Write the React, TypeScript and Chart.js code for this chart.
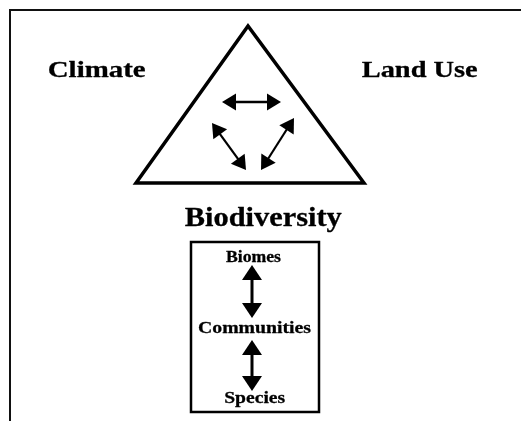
import React, { useEffect, useRef } from "react";
import { Chart, registerables } from "chart.js";

Chart.register(...registerables);

// ---- Diagram data (in picture units, mapped through the chart's linear scales) ----
const frameX = [10, 10, 521];
const frameY = [421, 10, 10];

const triangleX = [248, 136, 364];
const triangleY = [26, 183, 183];

const boxX = [191, 319];
const boxY = [242, 412];

// double-headed arrows: start tip -> end tip
const arrowStartX = [222, 212, 294, 252, 252];
const arrowStartY = [102, 123, 118, 265, 340];
const arrowEndX = [281, 246, 261, 252, 252];
const arrowEndY = [102, 170, 170, 318, 391];

const labels = ["Climate", "Land Use", "Biodiversity", "Biomes", "Communities", "Species"];
const labelX = [96.7, 419.7, 263.3, 253.5, 254.5, 254.7];
const labelY = [77, 77, 226, 262, 333, 403];

// ---- styles ----
const arrowHeadLen = [14, 14, 14, 15, 15];
const arrowHeadWidth = [17, 17, 17, 20, 20];
const arrowShaftWidth = [2.5, 2.2, 2.2, 3, 3];
const labelFontSize = [24, 24, 27, 17, 17.5, 17.5];
const labelTargetWidth = [98, 116, 157, 55, 113, 61];
const FONT_FAMILY = '"Liberation Serif", "Times New Roman", Times, serif';
const INK = "#000000";

function shaftPoints(i: number) {
  const x1 = arrowStartX[i], y1 = arrowStartY[i], x2 = arrowEndX[i], y2 = arrowEndY[i];
  const len = Math.hypot(x2 - x1, y2 - y1);
  const ux = (x2 - x1) / len, uy = (y2 - y1) / len;
  const h = arrowHeadLen[i] - 1;
  return [
    { x: x1 + ux * h, y: y1 + uy * h },
    { x: x2 - ux * h, y: y2 - uy * h },
  ];
}

const diagramPlugin = {
  id: "diagramDecor",
  afterDatasetsDraw(chart: any) {
    const ctx: CanvasRenderingContext2D = chart.ctx;
    const xs = chart.scales.x;
    const ys = chart.scales.y;
    ctx.save();
    // arrow heads
    ctx.fillStyle = INK;
    for (let i = 0; i < arrowStartX.length; i++) {
      const ax = xs.getPixelForValue(arrowStartX[i]);
      const ay = ys.getPixelForValue(arrowStartY[i]);
      const bx = xs.getPixelForValue(arrowEndX[i]);
      const by = ys.getPixelForValue(arrowEndY[i]);
      const len = Math.hypot(bx - ax, by - ay);
      const ux = (bx - ax) / len, uy = (by - ay) / len;
      const px = -uy, py = ux;
      const L = arrowHeadLen[i], W = arrowHeadWidth[i] / 2;
      const heads = [
        { tx: ax, ty: ay, dx: ux, dy: uy },
        { tx: bx, ty: by, dx: -ux, dy: -uy },
      ];
      for (const hd of heads) {
        const baseX = hd.tx + hd.dx * L;
        const baseY = hd.ty + hd.dy * L;
        ctx.beginPath();
        ctx.moveTo(hd.tx, hd.ty);
        ctx.lineTo(baseX + px * W, baseY + py * W);
        ctx.lineTo(baseX - px * W, baseY - py * W);
        ctx.closePath();
        ctx.fill();
      }
    }
    // labels (bold serif, fitted to the reference widths)
    ctx.textAlign = "center";
    ctx.textBaseline = "alphabetic";
    ctx.fillStyle = INK;
    ctx.strokeStyle = INK;
    ctx.lineJoin = "round";
    for (let i = 0; i < labels.length; i++) {
      ctx.save();
      ctx.font = `bold ${labelFontSize[i]}px ${FONT_FAMILY}`;
      const w = ctx.measureText(labels[i]).width;
      const sx = w > 0 ? labelTargetWidth[i] / w : 1;
      ctx.translate(xs.getPixelForValue(labelX[i]), ys.getPixelForValue(labelY[i]));
      ctx.scale(sx, 1);
      ctx.fillText(labels[i], 0, 0);
      ctx.lineWidth = 0.3;
      ctx.strokeText(labels[i], 0, 0);
      ctx.restore();
    }
    ctx.restore();
  },
};

export default function App() {
  const canvasRef = useRef<HTMLCanvasElement | null>(null);

  useEffect(() => {
    const canvas = canvasRef.current;
    if (!canvas) return;

    const lineBase = {
      showLine: true,
      pointRadius: 0,
      pointHoverRadius: 0,
      borderColor: INK,
      backgroundColor: INK,
      tension: 0,
      fill: false,
      borderJoinStyle: "miter" as const,
    };

    const framePts = frameX.map((x, i) => ({ x, y: frameY[i] }));
    const triPts = [0, 1, 2, 0, 1].map((k) => ({ x: triangleX[k], y: triangleY[k] }));
    const boxPts = [
      { x: boxX[0], y: boxY[0] },
      { x: boxX[1], y: boxY[0] },
      { x: boxX[1], y: boxY[1] },
      { x: boxX[0], y: boxY[1] },
      { x: boxX[0], y: boxY[0] },
      { x: boxX[1], y: boxY[0] },
    ];

    const datasets: any[] = [
      { ...lineBase, label: "frame", data: framePts, borderWidth: 2, borderColor: "#111111" },
      { ...lineBase, label: "triangle", data: triPts, borderWidth: 3.5 },
      { ...lineBase, label: "box", data: boxPts, borderWidth: 2.5 },
    ];
    for (let i = 0; i < arrowStartX.length; i++) {
      datasets.push({
        ...lineBase,
        label: `arrow${i}`,
        data: shaftPoints(i),
        borderWidth: arrowShaftWidth[i],
        borderCapStyle: "butt",
      });
    }

    const chart = new Chart(canvas, {
      type: "scatter",
      data: { datasets },
      options: {
        animation: false,
        responsive: true,
        maintainAspectRatio: false,
        layout: { padding: 0 },
        events: [],
        scales: {
          x: { type: "linear", min: 0, max: 521, display: false },
          y: { type: "linear", min: 0, max: 421, reverse: true, display: false },
        },
        plugins: {
          legend: { display: false },
          tooltip: { enabled: false },
          title: { display: false },
        },
      },
      plugins: [diagramPlugin],
    });

    return () => chart.destroy();
  }, []);

  return (
    <div
      style={{
        position: "fixed",
        left: 0,
        top: 0,
        width: 521,
        height: 421,
        background: "#ffffff",
      }}
    >
      <canvas ref={canvasRef} />
    </div>
  );
}
